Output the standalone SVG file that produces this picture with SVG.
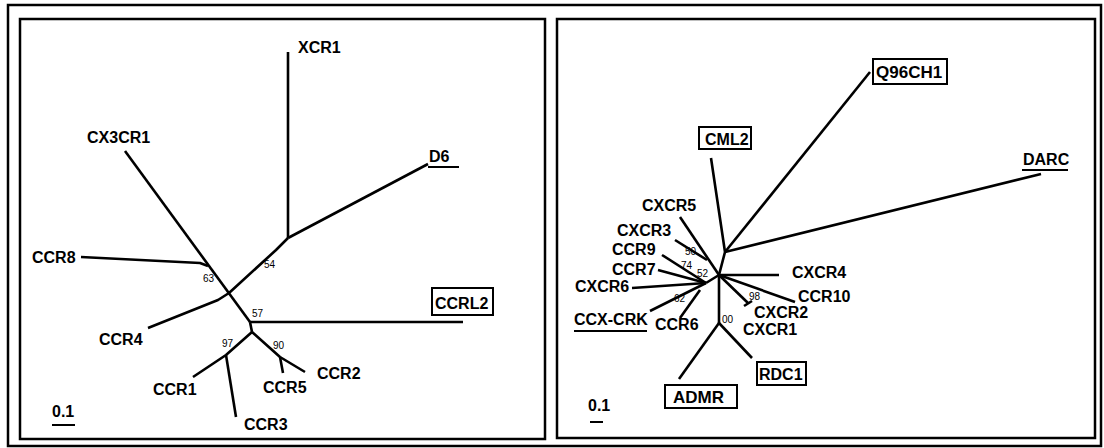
<svg xmlns="http://www.w3.org/2000/svg" width="1104" height="448" viewBox="0 0 1104 448">
<style>
.frame{fill:none;stroke:#000;stroke-width:2.5}
.br{fill:none;stroke:#000;stroke-width:2.6;stroke-linejoin:round;stroke-linecap:butt}
.lb{font-family:"Liberation Sans",Arial,sans-serif;font-weight:bold;font-size:16px;fill:#000}
.bx{font-size:17px}
.bs{font-family:"Liberation Sans",Arial,sans-serif;font-size:10px;fill:#000}
.box{fill:#fff;stroke:#000;stroke-width:2}
.ul{stroke:#000;stroke-width:2}
</style>
<rect x="0" y="0" width="1104" height="448" fill="#fff"/>
<rect class="frame" x="8" y="5" width="1093" height="441" stroke-width="2"/>
<rect class="frame" x="20" y="19" width="525" height="420"/>
<rect class="frame" x="557" y="19" width="538" height="419"/>

<g id="connectors">
  <!-- left tree -->
  <path class="br" d="M288,52 L288,238"/>
  <path class="br" d="M288,238 L428,164"/>
  <path class="br" d="M288,238 L276,250 L229,293"/>
  <path class="br" d="M125,151 L250,322"/>
  <path class="br" d="M81,257 L200,263 L208,266"/>
  <path class="br" d="M229,293 L218,300 L148,328"/>
  <path class="br" d="M250,322 L463,322"/>
  <path class="br" d="M250,322 L252,332"/>
  <path class="br" d="M252,332 L226,355 L193,377"/>
  <path class="br" d="M226,355 L236,417"/>
  <path class="br" d="M252,332 L280,357 L305,372"/>
  <path class="br" d="M280,357 L283,373"/>
  <!-- right tree -->
  <path class="br" d="M870,72 L725,252"/>
  <path class="br" d="M711,158 L725,252 L719,275"/>
  <path class="br" d="M1041,174 L725,252"/>
  <path class="br" d="M719,275 L779,275"/>
  <path class="br" d="M719,275 L795,302"/>
  <path class="br" d="M719,275 L748,303"/>
  <path class="br" d="M744,306 L752,301" stroke-width="2"/>
  <path class="br" d="M719,275 L719,323"/>
  <path class="br" d="M719,323 L679,379"/>
  <path class="br" d="M719,323 L752,358"/>
  <path class="br" d="M680,217 L719,275"/>
  <path class="br" d="M675,240 L707,260"/>
  <path class="br" d="M662,255 L706,283"/>
  <path class="br" d="M658,270 L706,283"/>
  <path class="br" d="M632,288 L706,283"/>
  <path class="br" d="M706,283 L719,275"/>
  <path class="br" d="M650,311 L706,283"/>
  <path class="br" d="M680,318 L700,290"/>
</g>

<g id="bootstrap">
  <text class="bs" x="264" y="268">54</text>
  <text class="bs" x="203" y="282">63</text>
  <text class="bs" x="252" y="317">57</text>
  <text class="bs" x="222" y="347">97</text>
  <text class="bs" x="273" y="349">90</text>
  <text class="bs" x="685" y="255">50</text>
  <text class="bs" x="681" y="269">74</text>
  <text class="bs" x="697" y="277">52</text>
  <text class="bs" x="674" y="302">62</text>
  <text class="bs" x="749" y="300">98</text>
  <text class="bs" x="722" y="323">00</text>
</g>

<g id="XCR1"><text class="lb" x="298" y="53">XCR1</text></g>
<g id="CX3CR1"><text class="lb" x="87" y="143">CX3CR1</text></g>
<g id="D6"><text class="lb" x="429" y="162">D6</text><line class="ul" x1="428" y1="167" x2="459" y2="167"/></g>
<g id="CCR8"><text class="lb" x="32" y="263">CCR8</text></g>
<g id="CCR4"><text class="lb" x="99" y="345">CCR4</text></g>
<g id="CCRL2"><rect class="box" x="432" y="288" width="61" height="27"/><text class="lb" x="435" y="309" font-size="15.5">CCRL2</text></g>
<g id="CCR2"><text class="lb" x="317" y="379">CCR2</text></g>
<g id="CCR5"><text class="lb" x="263" y="393">CCR5</text></g>
<g id="CCR1"><text class="lb" x="153" y="395">CCR1</text></g>
<g id="CCR3"><text class="lb" x="244" y="430">CCR3</text></g>
<g id="scale-left"><text class="lb" x="52" y="417" font-size="14">0.1</text><line class="ul" x1="52" y1="425" x2="75" y2="425"/></g>

<g id="Q96CH1"><rect class="box" x="873" y="59" width="74" height="25"/><text class="lb bx" x="876" y="78">Q96CH1</text></g>
<g id="CML2"><rect class="box" x="699" y="127" width="52" height="22"/><text class="lb" x="705" y="145" font-size="15">CML2</text></g>
<g id="DARC"><text class="lb" x="1023" y="165">DARC</text><line class="ul" x1="1022" y1="170" x2="1068" y2="170"/></g>
<g id="CXCR4"><text class="lb" x="792" y="278">CXCR4</text></g>
<g id="CCR10"><text class="lb" x="798" y="302">CCR10</text></g>
<g id="CXCR2"><text class="lb" x="754" y="318">CXCR2</text></g>
<g id="CXCR1"><text class="lb" x="743" y="335">CXCR1</text></g>
<g id="RDC1"><rect class="box" x="757" y="362" width="49" height="23"/><text class="lb" x="759" y="380" font-size="15">RDC1</text></g>
<g id="ADMR"><rect class="box" x="665" y="385" width="72" height="23"/><text class="lb bx" x="673" y="403">ADMR</text></g>
<g id="CXCR5"><text class="lb" x="642" y="211">CXCR5</text></g>
<g id="CXCR3"><text class="lb" x="617" y="236">CXCR3</text></g>
<g id="CCR9"><text class="lb" x="612" y="255">CCR9</text></g>
<g id="CCR7"><text class="lb" x="612" y="275">CCR7</text></g>
<g id="CXCR6"><text class="lb" x="575" y="292">CXCR6</text></g>
<g id="CCX-CRK"><text class="lb" x="574" y="325">CCX-CRK</text><line class="ul" x1="574" y1="331" x2="647" y2="331"/></g>
<g id="CCR6"><text class="lb" x="655" y="330">CCR6</text></g>
<g id="scale-right"><text class="lb" x="588" y="411" font-size="14">0.1</text><line class="ul" x1="590" y1="422" x2="603" y2="422"/></g>
</svg>
